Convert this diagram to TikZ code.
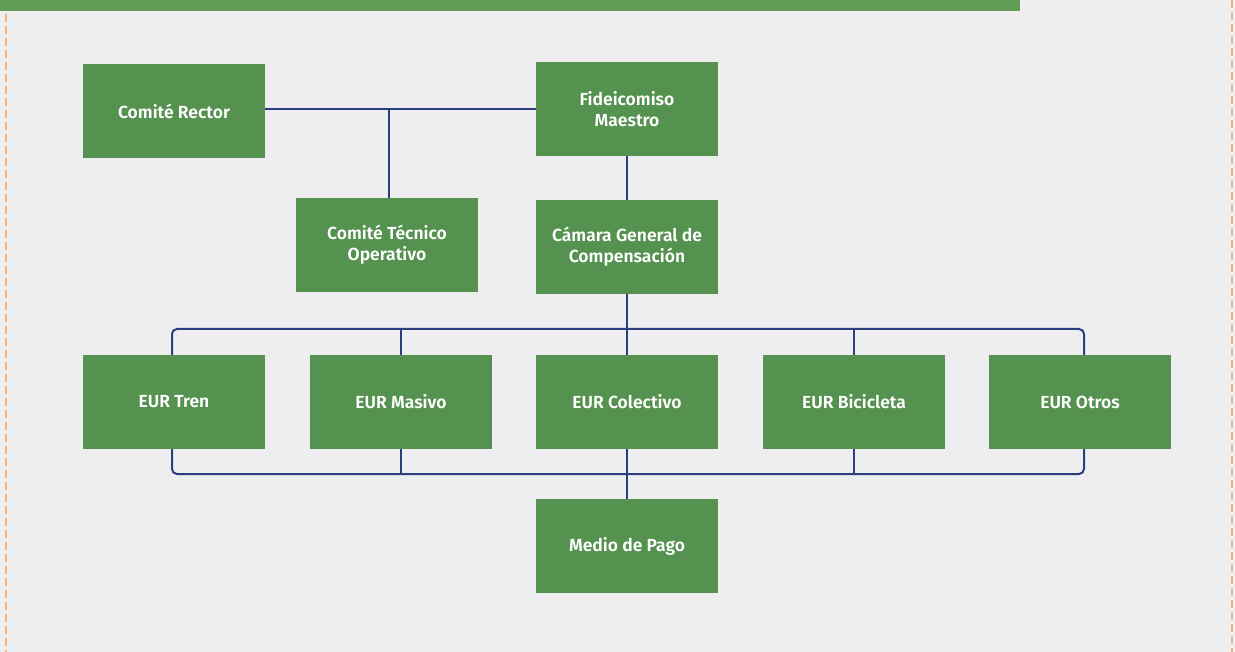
\documentclass[tikz,border=0pt]{standalone}
\usepackage{fontspec}
\setmainfont{Fira Sans}[BoldFont={Fira Sans SemiBold}]
\definecolor{bgray}{HTML}{EEEEF0}
\definecolor{boxgreen}{HTML}{55924F}
\definecolor{bargreen}{HTML}{629C55}
\definecolor{navy}{HTML}{2B3F7F}
\definecolor{dashorange}{HTML}{F2B27A}
\tikzset{
  unit/.style={draw=none, fill=boxgreen, text=white, minimum width=182pt,
    minimum height=94pt, inner sep=0pt, align=center,
    font=\fontsize{17.5}{21}\selectfont\bfseries},
  link/.style={draw=navy, line width=2pt},
  busline/.style={draw=navy, line width=2pt, rounded corners=5pt},
  frameline/.style={draw=dashorange, line width=2.4pt, dash pattern=on 8pt off 4pt}
}
\begin{document}
\begin{tikzpicture}[x=1pt, y=-1pt]
  \useasboundingbox (0,0) rectangle (1235,652);
  \fill[bgray] (0,0) rectangle (1235,652);
  % title band and dashed frame
  \fill[bargreen] (0,0) rectangle (1020,11);
  \draw[frameline] (6,14) -- (6,652);
  \draw[frameline] (1232,0) -- (1232,652);

  % boxes
  \node[unit] (rector) at (174,111) {Comité Rector};
  \node[unit] (fide) at (627,109) {Fideicomiso\\Maestro};
  \node[unit] (tecnico) at (387,245) {Comité Técnico\\Operativo};
  \node[unit] (camara) at (627,247) {Cámara General de\\Compensación};
  \node[unit] (tren) at (174,402) {EUR Tren};
  \node[unit] (masivo) at (401,402) {EUR Masivo};
  \node[unit] (colectivo) at (627,402) {EUR Colectivo};
  \node[unit] (bici) at (854,402) {EUR Bicicleta};
  \node[unit] (otros) at (1080,402) {EUR Otros};
  \node[unit] (pago) at (627,546) {Medio de Pago};

  % upper links
  \coordinate (j1) at (389,109);
  \draw[link] (rector.east |- j1) -- (fide.west |- j1);
  \draw[link] (j1) -- (j1 |- tecnico.north);
  \draw[link] (fide.south) -- (camara.north);

  % distribution bus
  \coordinate (tl) at (172,329);
  \coordinate (tr) at (1084,329);
  \draw[link] (camara.south) -- (627,329);
  \draw[busline] (tl |- tren.north) -- (tl) -- (tr) -- (tr |- otros.north);
  \draw[link] (401,329) -- (masivo.north);
  \draw[link] (627,329) -- (colectivo.north);
  \draw[link] (854,329) -- (bici.north);

  % collection bus
  \coordinate (bl) at (172,474);
  \coordinate (br) at (1084,474);
  \draw[busline] (bl |- tren.south) -- (bl) -- (br) -- (br |- otros.south);
  \draw[link] (masivo.south) -- (401,474);
  \draw[link] (bici.south) -- (854,474);
  \draw[link] (colectivo.south) -- (pago.north);
\end{tikzpicture}
\end{document}
